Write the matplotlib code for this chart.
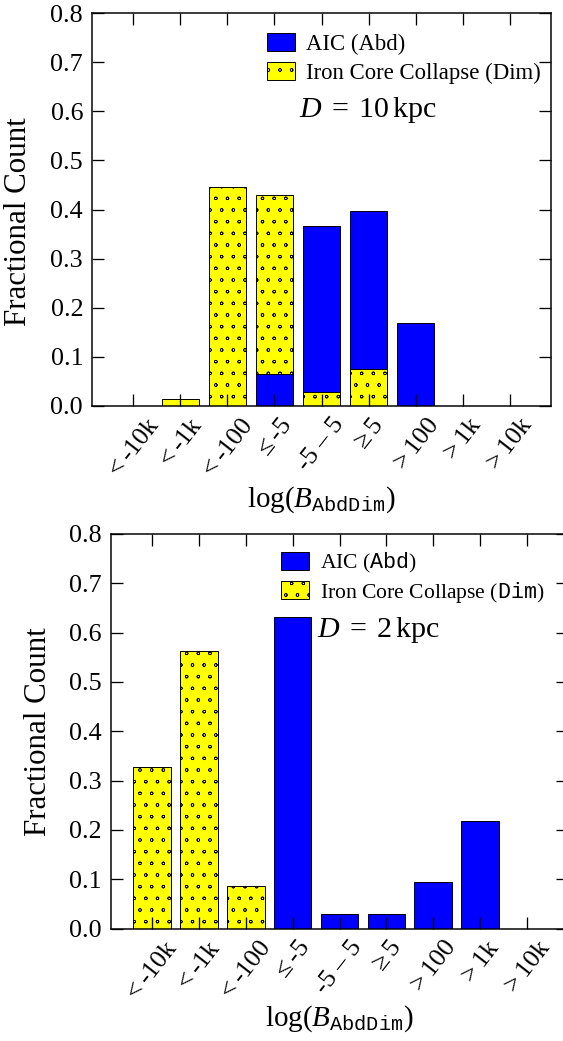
import matplotlib
matplotlib.use("Agg")
import matplotlib.pyplot as plt
import matplotlib.hatch as mhatch
import numpy as np

# Bayes-factor bins for log(B_AbdDim)
bins = ["$<$-10k", "$<$-1k", "$<$-100", r"$\leq$-5", "-5 – 5",
        r"$\geq$5", "$>$100", "$>$1k", "$>$10k"]

# Fractional counts, D = 10 kpc
aic_10kpc = [0.0, 0.0, 0.0, 0.065, 0.367, 0.396, 0.168, 0.0, 0.0]
icc_10kpc = [0.0, 0.014, 0.445, 0.430, 0.029, 0.076, 0.0, 0.0, 0.0]

# Fractional counts, D = 2 kpc
aic_2kpc = [0.0, 0.0, 0.0, 0.632, 0.029, 0.029, 0.094, 0.217, 0.0]
icc_2kpc = [0.328, 0.563, 0.086, 0.0, 0.0, 0.0, 0.0, 0.0, 0.0]

yticks = [0.0, 0.1, 0.2, 0.3, 0.4, 0.5, 0.6, 0.7, 0.8]

plt.rcParams.update({
    "font.family": ["Liberation Serif", "DejaVu Serif"],
    "mathtext.fontset": "custom",
    "mathtext.rm": "Liberation Serif",
    "mathtext.it": "Liberation Serif:italic",
    "mathtext.tt": "Liberation Mono",
    "hatch.color": "black",
    "hatch.linewidth": 0.7,
})
# smaller rings for the 'o' hatch
mhatch.SmallCircles.size = 0.12

DPI = 70
W, H = 563, 1041
fig = plt.figure(figsize=(W / DPI, H / DPI), dpi=DPI)


def pt(px):
    return px * 72.0 / DPI


def axes_px(left, top, right, bottom):
    return fig.add_axes([left / W, 1 - bottom / H, (right - left) / W, (bottom - top) / H])


def panel(ax, aic, icc, leg_labels, leg_anchor, leg_size, dist_label,
          dist_pos, xlabel_y, ylabel_pos, legend_spacing):
    x = np.arange(len(bins))
    b_aic = ax.bar(x, aic, 0.8, color="#0000ff", edgecolor="black",
                   linewidth=1.0, label=leg_labels[0])
    b_icc = ax.bar(x, icc, 0.8, color="#ffff00", edgecolor="black",
                   linewidth=1.0, hatch="o", label=leg_labels[1])
    # the shorter bar of each bin sits in front of the taller one
    for pa, pi, a, c in zip(b_aic, b_icc, aic, icc):
        if a < c:
            pa.set_zorder(1.5)
        else:
            pi.set_zorder(1.5)

    ax.set_xlim(-0.88, 8.88)
    ax.set_ylim(0.0, 0.8)
    ax.set_xticks(x, bins, rotation=52, ha="center")
    ax.set_yticks(yticks, [f"{v:.1f}" for v in yticks])
    ax.tick_params(axis="both", which="major", direction="in", top=True,
                   right=True, length=pt(12), width=pt(1.3),
                   labelsize=pt(26))
    ax.tick_params(axis="y", pad=pt(9))
    ax.tick_params(axis="x", pad=pt(8))
    for sp in ax.spines.values():
        sp.set_linewidth(pt(1.5))

    ax.set_xlabel(r"$\log(B_{\mathtt{AbdDim}})$", fontsize=pt(29))
    ax.xaxis.set_label_coords(0.5, xlabel_y)
    ax.set_ylabel("Fractional Count", fontsize=pt(31))
    ax.yaxis.set_label_coords(*ylabel_pos)

    ax.legend(loc="upper left", bbox_to_anchor=leg_anchor, frameon=False,
              borderpad=0, borderaxespad=0,
              handlelength=28 / leg_size, handleheight=20 / leg_size,
              handletextpad=0.5, labelspacing=legend_spacing,
              fontsize=pt(leg_size))
    ax.text(dist_pos[0], dist_pos[1], dist_label, transform=ax.transAxes,
            ha="left", va="center", fontsize=pt(30))


ax1 = axes_px(92, 13, 551, 406)
panel(ax1, aic_10kpc, icc_10kpc,
      ["AIC (Abd)", "Iron Core Collapse (Dim)"],
      (0.381, 0.950), 22.7, r"$D\;=\;10\,\mathrm{kpc}$", (0.451, 0.753),
      -0.2, (-0.1285, 0.47), 0.3)

ax2 = axes_px(111, 534, 568, 928.5)
panel(ax2, aic_2kpc, icc_2kpc,
      [r"AIC ($\mathtt{Abd}$)", r"Iron Core Collapse ($\mathtt{Dim}$)"],
      (0.372, 0.957), 21.6, r"$D\;=\;2\,\mathrm{kpc}$", (0.451, 0.757),
      -0.19, (-0.127, 0.5), 0.22)

fig.savefig("out.png", dpi=DPI)
